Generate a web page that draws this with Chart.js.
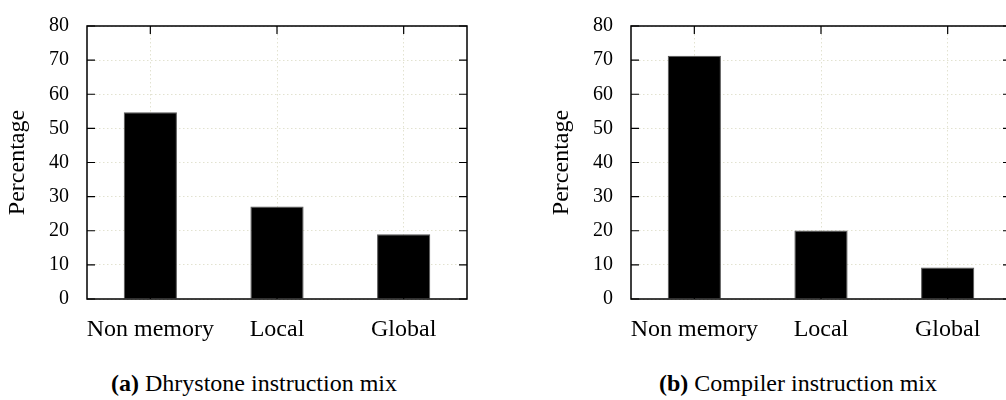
<!DOCTYPE html>
<html>
<head>
<meta charset="utf-8">
<script src="https://cdn.jsdelivr.net/npm/chart.js@4.4.1/dist/chart.umd.min.js"></script>
<style>
  html, body { margin: 0; padding: 0; background: #fff; }
  #wrap { position: relative; width: 1006px; height: 400px; overflow: hidden; background: #fff; }
  .cv { position: absolute; top: 0; width: 503px; height: 345px; }
  .cap { position: absolute; font-family: "Liberation Serif", serif; font-size: 24px; line-height: 24px; color: #000; white-space: nowrap; text-align: center; }
  .cap b { font-weight: bold; }
</style>
</head>
<body>
<div id="wrap">
  <div class="cv" style="left:0px"><canvas id="c1" width="503" height="345"></canvas></div>
  <div class="cv" style="left:544px"><canvas id="c2" width="503" height="345"></canvas></div>
  <div class="cap" id="cap1" style="left:54px; width:400px; top:371px;"><b>(a)</b> Dhrystone instruction mix</div>
  <div class="cap" id="cap2" style="left:598px; width:400px; top:371px;"><b>(b)</b> Compiler instruction mix</div>
</div>
<script>
const categories = ["Non memory", "Local", "Global"];
const dhrystoneValues = [54.7, 27.1, 19.0];
const compilerValues = [71.3, 20.1, 9.2];
const yTickMin = 0;
const yTickMax = 80;
const yTickStep = 10;
const yTitle = "Percentage";

const frameAndTicks = {
  id: 'frameAndTicks',
  afterDraw(chart) {
    const ctx = chart.ctx;
    const a = chart.chartArea;
    const ys = chart.scales.y, xs = chart.scales.x;
    const L = 8;
    ctx.save();
    ctx.strokeStyle = '#000';
    ctx.lineWidth = 1.2;
    ctx.beginPath();
    ys.ticks.forEach(t => {
      const py = ys.getPixelForValue(t.value);
      ctx.moveTo(a.left, py); ctx.lineTo(a.left + L, py);
      ctx.moveTo(a.right, py); ctx.lineTo(a.right - L, py);
    });
    xs.ticks.forEach((t, i) => {
      const px = xs.getPixelForTick(i);
      ctx.moveTo(px, a.top); ctx.lineTo(px, a.top + L);
      ctx.moveTo(px, a.bottom); ctx.lineTo(px, a.bottom - L);
    });
    ctx.stroke();
    ctx.lineWidth = 1.5;
    ctx.strokeRect(a.left, a.top, a.right - a.left, a.bottom - a.top);
    ctx.restore();
  }
};

function makeChart(id, values) {
  return new Chart(document.getElementById(id), {
    type: 'bar',
    data: {
      labels: categories,
      datasets: [{
        data: values,
        backgroundColor: '#000',
        borderColor: '#555',
        borderWidth: 1,
        barPercentage: 0.42,
        categoryPercentage: 1.0
      }]
    },
    options: {
      responsive: false,
      animation: false,
      devicePixelRatio: 1,
      layout: { padding: { top: 9, right: 36, left: 0, bottom: 0 } },
      plugins: { legend: { display: false }, tooltip: { enabled: false }, title: { display: false } },
      scales: {
        x: {
          type: 'category',
          offset: true,
          grid: { display: true, offset: false, drawTicks: false, tickLength: 0, color: 'rgb(226,226,208)', lineWidth: 1 },
          border: { display: false, dash: [1.5, 2.5] },
          ticks: { color: '#000', padding: 16, font: { family: 'Liberation Serif', size: 24 }, maxRotation: 0, autoSkip: false },
          afterFit(s) { s.height = 46; }
        },
        y: {
          min: yTickMin, max: yTickMax,
          grid: { display: true, drawTicks: false, tickLength: 0, color: 'rgb(226,226,208)', lineWidth: 1 },
          border: { display: false, dash: [1.5, 2.5] },
          ticks: { stepSize: yTickStep, color: '#000', padding: 18, font: { family: 'Liberation Serif', size: 20, lineHeight: 0.8 } },
          title: { display: true, text: yTitle, color: '#000', font: { family: 'Liberation Serif', size: 24, lineHeight: 1.2 }, padding: { top: 3, bottom: 0 } },
          afterFit(s) { s.width = 87; }
        }
      }
    },
    plugins: [frameAndTicks]
  });
}

makeChart('c1', dhrystoneValues);
makeChart('c2', compilerValues);
</script>
</body>
</html>
